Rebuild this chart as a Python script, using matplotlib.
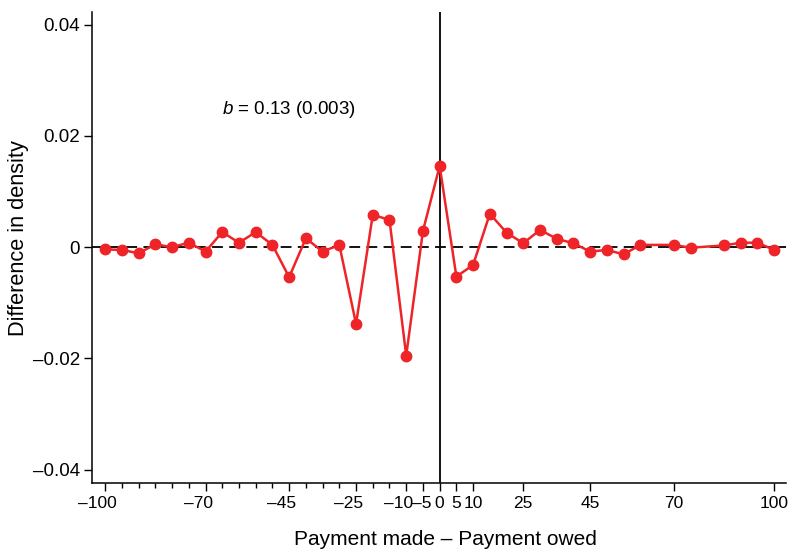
import matplotlib
matplotlib.use("Agg")
import matplotlib.pyplot as plt
from matplotlib.transforms import ScaledTranslation

plt.rcParams['font.family'] = ['Liberation Sans', 'DejaVu Sans']
plt.rcParams['mathtext.fontset'] = 'custom'
plt.rcParams['mathtext.rm'] = 'Liberation Sans'
plt.rcParams['mathtext.it'] = 'Liberation Sans:italic'

# payment gap (made - owed) and difference in density
gap_left = [-100, -95, -90, -85, -80, -75, -70, -65, -60, -55, -50,
            -45, -40, -35, -30, -25, -20, -15, -10, -5, 0]
diff_left = [-0.0004, -0.0005, -0.0011, 0.0005, 0.0000, 0.0008, -0.0008,
             0.0027, 0.0008, 0.0027, 0.0004, -0.0054, 0.0016, -0.0008,
             0.0004, -0.0138, 0.0058, 0.0049, -0.0195, 0.0029, 0.0146]
gap_right = [5, 10, 15, 20, 25, 30, 35, 40, 45, 50, 55, 60, 70, 75,
             85, 90, 95, 100]
diff_right = [-0.0053, -0.0032, 0.0060, 0.0026, 0.0007, 0.0031, 0.0015,
              0.0007, -0.0008, -0.0005, -0.0013, 0.0004, 0.0004, -0.0001,
              0.0003, 0.0008, 0.0008, -0.0005]

x_ticks = [-100, -70, -45, -25, -10, -5, 0, 5, 10, 25, 45, 70, 100]
x_minor = list(range(-95, 0, 5))
y_ticks = [-0.04, -0.02, 0, 0.02, 0.04]
y_labels = ['\u20130.04', '\u20130.02', '0', '0.02', '0.04']
annot = r"$b$ = 0.13 (0.003)"

gap = gap_left + gap_right
diff = diff_left + diff_right
red = '#EE2428'

fig = plt.figure(figsize=(7.93, 5.55), dpi=100)
ax = fig.add_axes([0.1166, 0.1297, 0.8744, 0.848])

ax.axhline(0, color='black', linestyle=(0, (6, 3.5)), linewidth=1.3, zorder=1)
ax.axvline(0, color='black', linewidth=1.3, zorder=1)
ax.plot(gap, diff, color=red, linewidth=1.8, marker='o', markersize=7.5, zorder=3)

ax.set_xlim(-103.8, 103.5)
ax.set_ylim(-0.0424, 0.0422)

ax.set_xticks(x_ticks)
ax.set_xticklabels([str(t).replace('-', '\u2013') for t in x_ticks])
ax.set_xticks(x_minor, minor=True)
ax.set_yticks(y_ticks)
ax.set_yticklabels(y_labels)
ax.tick_params(axis='both', which='major', length=6, width=1, pad=3)
ax.tick_params(axis='x', which='major', labelsize=12.5)
ax.tick_params(axis='y', which='major', labelsize=13.5)
ax.tick_params(axis='x', which='minor', length=3.5, width=1)

# negative labels: digits sit on the tick, dash hangs to the left
for t, lab in zip(x_ticks, ax.get_xticklabels()):
    if t < 0:
        dx = 1 if t == -5 else 7.5
        lab.set_transform(lab.get_transform() + ScaledTranslation(-dx / 100, 0, fig.dpi_scale_trans))

ax.spines['top'].set_visible(False)
ax.spines['right'].set_visible(False)
ax.spines['left'].set_linewidth(1.1)
ax.spines['bottom'].set_linewidth(1.1)

ax.text(-65, 0.0248, annot, fontsize=13.5, va='center', ha='left')

ax.set_xlabel("Payment made \u2013 Payment owed", fontsize=15)
ax.xaxis.set_label_coords(0.509, -0.100)
ax.set_ylabel("Difference in density", fontsize=15.7)
ax.yaxis.set_label_coords(-0.0916, 0.521)

fig.savefig("out.png", dpi=100)
